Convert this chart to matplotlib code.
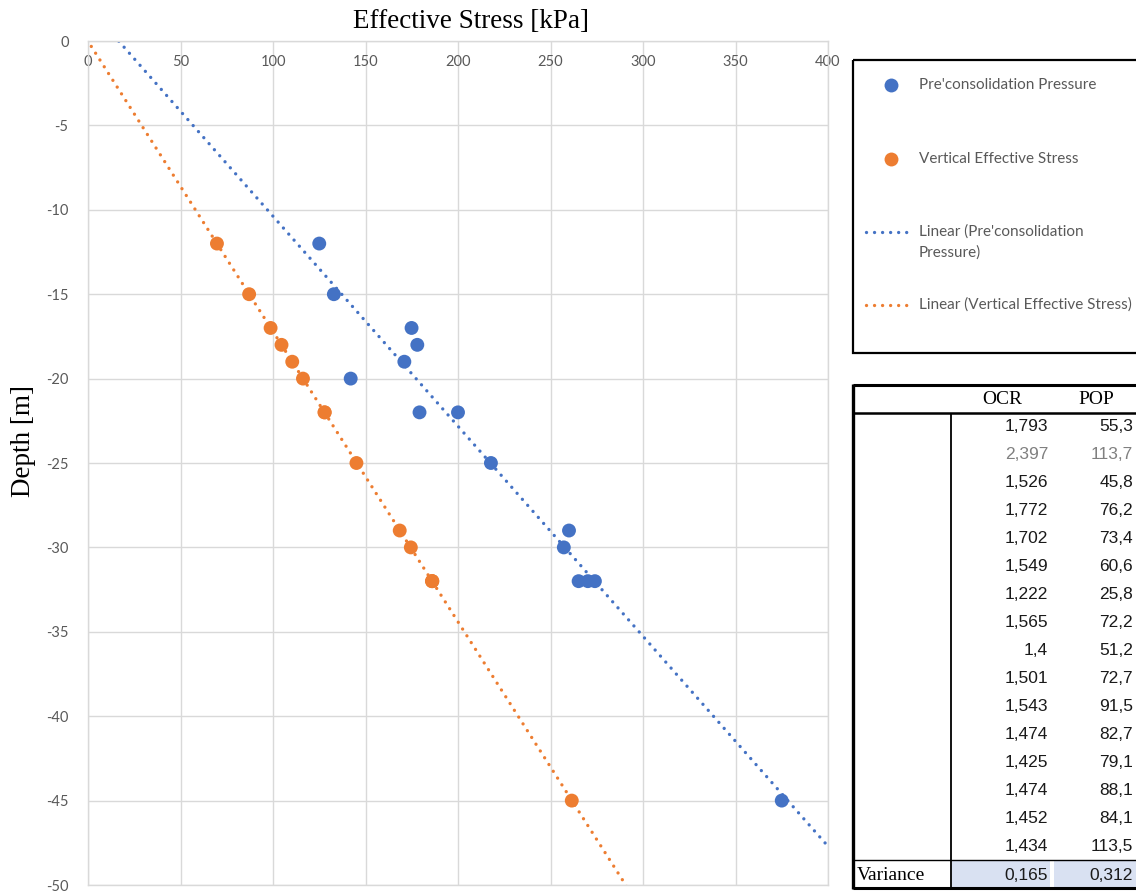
import numpy as np
import matplotlib
matplotlib.use("Agg")
import matplotlib.pyplot as plt
from matplotlib.patches import Rectangle

# Oedometer results: depth, preconsolidation pressure and in-situ vertical effective stress
depth_m = [-12, -15, -17, -18, -19, -20, -22, -22, -25, -29, -30, -32, -32, -32, -45]
preconsolidation_kpa = [125.0, 132.9, 174.9, 178.0, 171.0, 142.0, 200.0, 179.2,
                        217.8, 260.0, 257.2, 265.2, 274.0, 270.2, 375.0]
vertical_effective_kpa = [69.7, 87.1, 98.7, 104.6, 110.4, 116.2, 127.8, 128.0,
                          145.1, 168.5, 174.5, 186.1, 185.9, 186.1, 261.5]

# Table of over-consolidation ratio and pre-overburden pressure per sample
ocr_values = [1.793, 2.397, 1.526, 1.772, 1.702, 1.549, 1.222, 1.565,
              1.4, 1.501, 1.543, 1.474, 1.425, 1.474, 1.452, 1.434]
pop_values = [55.3, 113.7, 45.8, 76.2, 73.4, 60.6, 25.8, 72.2,
              51.2, 72.7, 91.5, 82.7, 79.1, 88.1, 84.1, 113.5]
excluded_rows = [1]
variance_ocr = 0.165
variance_pop = 0.312

x_ticks = [0, 50, 100, 150, 200, 250, 300, 350, 400]
y_ticks = [0, -5, -10, -15, -20, -25, -30, -35, -40, -45, -50]

W, H = 1136, 892
BLUE = "#4472C4"
ORANGE = "#ED7D31"
GRID = "#D9D9D9"
TXT = "#595959"
SANS = ["Lato", "DejaVu Sans"]
SERIF = ["Liberation Serif", "DejaVu Serif"]
NUM = ["Liberation Sans", "DejaVu Sans"]

fig = plt.figure(figsize=(W / 100, H / 100), dpi=100)
ax = fig.add_axes([88 / W, 1 - 885 / H, (828 - 88) / W, (885 - 41) / H])

ax.set_xlim(0, 400)
ax.set_ylim(-50, 0)
ax.set_xticks(x_ticks)
ax.set_yticks(y_ticks)
ax.set_xticklabels([str(v) for v in x_ticks], family=SANS, fontsize=10.5, color=TXT)
ax.set_yticklabels([str(v) for v in y_ticks], family=SANS, fontsize=10.5, color=TXT)
ax.xaxis.tick_top()
ax.tick_params(axis="x", length=0, pad=-20)
ax.tick_params(axis="y", length=0, pad=14)
ax.grid(True, color=GRID, linewidth=1.0)
ax.set_axisbelow(True)
for s in ax.spines.values():
    s.set_color(GRID)
    s.set_linewidth(1.0)

dot_style = dict(linestyle=(0, (0.01, 2.4)), linewidth=2.4, dash_capstyle="round")

# Linear trend lines (depth regressed on stress), extended across the plot
x_line = np.linspace(-20, 420, 200)
for xs, col in [(preconsolidation_kpa, BLUE), (vertical_effective_kpa, ORANGE)]:
    slope, intercept = np.polyfit(xs, depth_m, 1)
    ax.plot(x_line, slope * x_line + intercept, color=col, zorder=2, **dot_style)

ax.scatter(preconsolidation_kpa, depth_m, s=100, color=BLUE, edgecolors="none", zorder=3)
ax.scatter(vertical_effective_kpa, depth_m, s=100, color=ORANGE, edgecolors="none", zorder=3)

# Overlay in pixel coordinates for titles, legend box and table
ov = fig.add_axes([0, 0, 1, 1])
ov.set_xlim(0, W)
ov.set_ylim(H, 0)
ov.axis("off")
ov.patch.set_visible(False)

ov.text(471, 22, "Effective Stress [kPa]", family=SERIF, fontsize=19.5,
        ha="center", va="center", color="black")
ov.text(24, 441, "Depth [m]", family=SERIF, fontsize=19.5, rotation=90,
        ha="center", va="center", color="black")

# Legend
ov.add_patch(Rectangle((852.5, 60), 320, 292.5, fill=False, edgecolor="black",
                       linewidth=1.6, clip_on=False))
ov.plot([891], [85], "o", color=BLUE, markersize=10, markeredgewidth=0)
ov.plot([891], [159], "o", color=ORANGE, markersize=10, markeredgewidth=0)
ov.plot([866, 913], [232, 232], color=BLUE, **dot_style)
ov.plot([866, 913], [305, 305], color=ORANGE, **dot_style)
leg_kw = dict(family=SANS, fontsize=11, color=TXT, ha="left", va="center")
ov.text(919, 85, "Pre'consolidation Pressure", **leg_kw)
ov.text(919, 159, "Vertical Effective Stress", **leg_kw)
ov.text(919, 232, "Linear (Pre'consolidation", **leg_kw)
ov.text(919, 253, "Pressure)", **leg_kw)
ov.text(919, 305, "Linear (Vertical Effective Stress)", **leg_kw)

# Table
def fmt(v):
    return str(v).replace(".", ",")

top, head_bot, var_top, bot = 385, 413, 860, 887.5
left, col_div = 853, 951
ov.add_patch(Rectangle((col_div + 1, var_top + 1), 1051 - col_div - 2, bot - var_top - 2,
                       facecolor="#D9E1F2", edgecolor="none"))
ov.add_patch(Rectangle((1054, var_top + 1), 100, bot - var_top - 2,
                       facecolor="#D9E1F2", edgecolor="none", clip_on=True))
ov.plot([left, 1140], [top, top], color="black", linewidth=2.2, solid_capstyle="butt")
ov.plot([left, 1140], [head_bot, head_bot], color="black", linewidth=1.8, solid_capstyle="butt")
ov.plot([left, 1140], [var_top, var_top], color="black", linewidth=1.0, solid_capstyle="butt")
ov.plot([left, 1140], [bot, bot], color="black", linewidth=2.2, solid_capstyle="butt")
ov.plot([left, left], [top - 1, bot + 1], color="black", linewidth=2.4, solid_capstyle="butt")
ov.plot([col_div, col_div], [head_bot, bot], color="black", linewidth=1.3, solid_capstyle="butt")

ov.text(1002, 400, "OCR", family=SERIF, fontsize=14, ha="center", va="center", color="black")
ov.text(1096, 400, "POP", family=SERIF, fontsize=14, ha="center", va="center", color="black")
row0, row_h = 426.5, 28.0
for i, (o, p) in enumerate(zip(ocr_values, pop_values)):
    c = "#808080" if i in excluded_rows else "#1a1a1a"
    y = row0 + i * row_h
    ov.text(1048, y, fmt(o), family=NUM, fontsize=12.5, ha="right", va="center", color=c)
    ov.text(1133, y, fmt(p), family=NUM, fontsize=12.5, ha="right", va="center", color=c)
ov.text(857, 875, "Variance", family=SERIF, fontsize=14, ha="left", va="center", color="black")
ov.text(1048, 875, fmt(variance_ocr), family=NUM, fontsize=12.5, ha="right", va="center", color="#1a1a1a")
ov.text(1133, 875, fmt(variance_pop), family=NUM, fontsize=12.5, ha="right", va="center", color="#1a1a1a")

fig.savefig("out.png", dpi=100, facecolor="white")
